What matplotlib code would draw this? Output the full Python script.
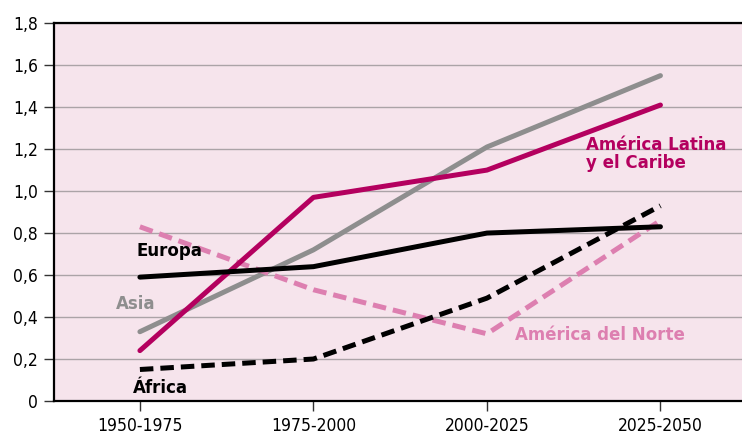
import matplotlib
matplotlib.use('Agg')
import matplotlib.pyplot as plt

plt.rcParams['font.family'] = ['DejaVu Sans']
plt.rcParams['font.stretch'] = 'condensed'

# datos
periodos = ['1950-1975', '1975-2000', '2000-2025', '2025-2050']
europa = [0.59, 0.64, 0.80, 0.83]
asia = [0.33, 0.72, 1.21, 1.55]
america_latina = [0.24, 0.97, 1.10, 1.41]
america_norte = [0.83, 0.53, 0.32, 0.86]
africa = [0.15, 0.20, 0.49, 0.93]
yticks = [0, 0.2, 0.4, 0.6, 0.8, 1.0, 1.2, 1.4, 1.6, 1.8]
ytick_labels = ['0', '0,2', '0,4', '0,6', '0,8', '1,0', '1,2', '1,4', '1,6', '1,8']

c_lat = '#B4005F'
c_asia = '#8E8E8E'
c_norte = '#DD7FB0'
c_fondo = '#F6E4EC'

fig = plt.figure(figsize=(7.42, 4.37), dpi=100)
ax = fig.add_axes([0.0728, 0.0824, 0.9272, 0.8646])
ax.set_facecolor(c_fondo)

x = range(len(periodos))
lw = 3.6
guion = (0, (2.7, 1.4))
ax.plot(x, asia, color=c_asia, lw=lw, solid_capstyle='round', zorder=3)
ax.plot(x, america_latina, color=c_lat, lw=lw, solid_capstyle='round', zorder=4)
ax.plot(x, america_norte, color=c_norte, lw=lw, ls=guion, zorder=3)
ax.plot(x, europa, color='black', lw=lw, solid_capstyle='round', zorder=5)
ax.plot(x, africa, color='black', lw=lw, ls=guion, zorder=5)

ax.set_xlim(-0.495, 3.47)
ax.set_ylim(0, 1.8)
ax.set_xticks(list(x))
ax.set_xticklabels(periodos, fontsize=12.5)
ax.set_yticks(yticks)
ax.set_yticklabels(ytick_labels, fontsize=12.5)
ax.grid(axis='y', color='#ABA3A7', lw=1.0)
ax.set_axisbelow(True)
ax.tick_params(axis='both', length=7.5, width=1, color='#333333', pad=4)
for s in ['left', 'bottom', 'top']:
    ax.spines[s].set_linewidth(1.6)
    ax.spines[s].set_color('black')
ax.spines['right'].set_visible(False)

kw = dict(fontsize=13.3, fontweight='bold')
ax.text(-0.02, 0.69, 'Europa', color='black', **kw)
ax.text(-0.14, 0.44, 'Asia', color=c_asia, **kw)
ax.text(-0.04, 0.04, 'África', color='black', **kw)
ax.text(2.57, 1.11, 'América Latina\ny el Caribe', color=c_lat, linespacing=1.0, **kw)
ax.text(2.16, 0.29, 'América del Norte', color=c_norte, **kw)

fig.savefig('out.png', dpi=100)
